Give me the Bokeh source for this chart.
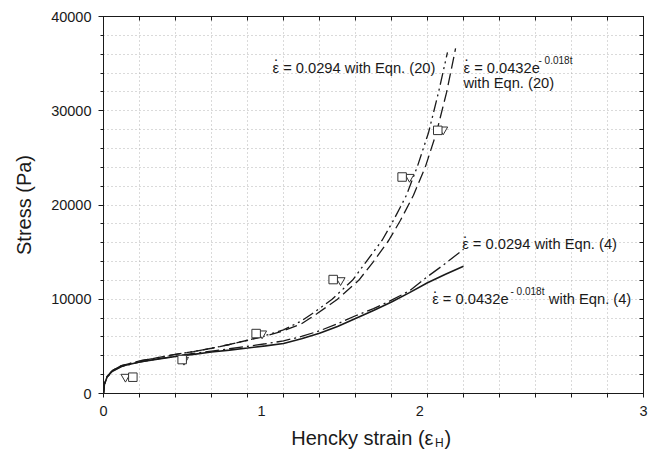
from bokeh.plotting import figure
from bokeh.layouts import column
from bokeh.models import Range1d, FixedTicker, LinearAxis, Label
from bokeh.embed import file_html
from bokeh.resources import INLINE

# ---- data ----
# ε̇ = 0.0432e^-0.018t with Eqn. (4)  (solid)
x_e4_exp = [0, 0.005, 0.02, 0.05, 0.1, 0.2, 0.3, 0.4, 0.5, 0.6, 0.7, 0.8, 0.9, 1.0,
            1.1, 1.2, 1.3, 1.4, 1.5, 1.6, 1.7, 1.8, 1.9, 2.0]
y_e4_exp = [0, 1000, 1750, 2400, 2900, 3350, 3650, 3920, 4150, 4400, 4600, 4820, 5050, 5300,
            5800, 6400, 7100, 7950, 8800, 9700, 10700, 11750, 12650, 13500]
# ε̇ = 0.0294 with Eqn. (4)  (dash-dot)
x_e4_const = [0, 0.005, 0.02, 0.05, 0.1, 0.2, 0.3, 0.4, 0.5, 0.6, 0.7, 0.8, 0.9, 1.0,
              1.1, 1.2, 1.3, 1.4, 1.5, 1.6, 1.7, 1.8, 1.9, 2.0]
y_e4_const = [0, 950, 1700, 2350, 2850, 3330, 3660, 3960, 4250, 4500, 4750, 5000, 5280, 5580,
              6050, 6650, 7400, 8250, 9000, 9900, 10900, 12400, 13800, 15300]
# ε̇ = 0.0432e^-0.018t with Eqn. (20)  (long dash)
x_e20_exp = [0, 0.005, 0.02, 0.05, 0.1, 0.2, 0.3, 0.4, 0.5, 0.6, 0.7, 0.8, 0.9, 1.0,
             1.1, 1.187, 1.3, 1.418, 1.5, 1.585, 1.65, 1.722, 1.789, 1.85, 1.906, 1.956]
y_e20_exp = [0, 1000, 1800, 2450, 2950, 3450, 3800, 4150, 4450, 4800, 5200, 5650, 6100, 6650,
             7400, 8480, 10000, 12010, 14000, 16260, 18380, 21030, 24100, 27700, 31940, 36610]
# ε̇ = 0.0294 with Eqn. (20)  (dash-dot-dot)
x_e20_const = [0, 0.005, 0.02, 0.05, 0.1, 0.2, 0.3, 0.4, 0.5, 0.6, 0.7, 0.8, 0.9, 1.0,
               1.1, 1.161, 1.27, 1.383, 1.46, 1.548, 1.611, 1.683, 1.744, 1.806, 1.861, 1.911]
y_e20_const = [0, 1000, 1800, 2450, 2950, 3450, 3800, 4150, 4450, 4800, 5200, 5650, 6150, 6750,
               7700, 8480, 10000, 12010, 14000, 16260, 18380, 21030, 24100, 27700, 31940, 36200]
# experimental points
x_square = [0.163, 0.437, 0.848, 1.276, 1.659, 1.857]
y_square = [1730, 3600, 6360, 12090, 22970, 27920]
x_tri = [0.122, 0.447, 0.881, 1.317, 1.700, 1.887]
y_tri = [1760, 3560, 6360, 12010, 22970, 28000]

x_label_pos = [0, 0.878, 1.757, 3]
x_label_txt = ["0", "1", "2", "3"]
y_major = [0, 10000, 20000, 30000, 40000]

FONT = "Liberation Sans"
INK = "#1a1a1a"
ANN = "14.7px"

FRAME_L, FRAME_R, FRAME_T, FRAME_B = 103, 643, 16, 393
MAIN_H = 424  # main figure height; the x-axis title strip sits below it

p = figure(width=656, height=MAIN_H, output_backend="svg", toolbar_location=None,
           x_range=Range1d(0, 3), y_range=Range1d(0, 40000),
           min_border_left=FRAME_L, min_border_right=656 - FRAME_R, min_border_top=FRAME_T,
           min_border_bottom=MAIN_H - FRAME_B)
p.background_fill_color = "white"
p.border_fill_color = "white"
p.outline_line_color = INK
p.outline_line_width = 1

x_minor = [round(0.2 * i, 1) for i in range(16)]
y_minor = [2000 * i for i in range(21)]

# grid
p.xgrid.ticker = FixedTicker(ticks=x_minor[1:-1])
p.ygrid.ticker = FixedTicker(ticks=y_minor[1:-1])
for g in (p.xgrid, p.ygrid):
    g.grid_line_color = "#b5b5b5"
    g.grid_line_dash = "1 3"
    g.grid_line_width = 1

# bottom axis
xa = p.xaxis[0]
xa.ticker = FixedTicker(ticks=x_label_pos, minor_ticks=x_minor)
xa.major_label_overrides = {v: t for v, t in zip(x_label_pos, x_label_txt)}
xa.major_tick_in = 0
xa.major_tick_out = 0
xa.minor_tick_in = 0
xa.minor_tick_out = 4
xa.major_label_standoff = 8
xa.major_label_text_font = FONT
xa.major_label_text_font_size = "14.5px"
xa.major_label_text_color = INK
xa.axis_line_color = INK
xa.minor_tick_line_color = INK

# left axis
ya = p.yaxis[0]
ya.ticker = FixedTicker(ticks=y_major, minor_ticks=y_minor)
ya.major_tick_in = 0
ya.major_tick_out = 5
ya.minor_tick_in = 0
ya.minor_tick_out = 3
ya.major_label_standoff = 7
ya.major_label_text_font = FONT
ya.major_label_text_font_size = "14.5px"
ya.major_label_text_color = INK
ya.axis_label = "Stress (Pa)"
ya.axis_label_text_font = FONT
ya.axis_label_text_font_size = "20px"
ya.axis_label_text_font_style = "normal"
ya.axis_label_text_color = INK
ya.axis_label_standoff = 13
ya.axis_line_color = INK
ya.major_tick_line_color = INK
ya.minor_tick_line_color = INK

# top and right axes: inward ticks only, no labels
top = LinearAxis(ticker=FixedTicker(ticks=[], minor_ticks=x_minor))
right = LinearAxis(ticker=FixedTicker(ticks=[], minor_ticks=y_minor))
for ax in (top, right):
    ax.major_tick_in = 0
    ax.major_tick_out = 0
    ax.minor_tick_in = 4
    ax.minor_tick_out = 0
    ax.major_label_standoff = 0
    ax.axis_line_color = INK
    ax.minor_tick_line_color = INK
p.add_layout(top, "above")
p.add_layout(right, "right")

# curves
p.line(x_e4_exp, y_e4_exp, line_color=INK, line_width=1.6)
p.line(x_e4_const, y_e4_const, line_color=INK, line_width=1.3, line_dash="14 4 2 4")
p.line(x_e20_exp, y_e20_exp, line_color=INK, line_width=1.3, line_dash="12 5")
p.line(x_e20_const, y_e20_const, line_color=INK, line_width=1.3, line_dash="12 4 2 4 2 4")

# markers
p.scatter(x_tri, y_tri, marker="inverted_triangle", size=9, fill_color="white",
          line_color="#333333", line_width=1)
p.scatter(x_square, y_square, marker="square", size=8.5, fill_color="white",
          line_color="#333333", line_width=1)


# annotations, positioned from reference pixels (screen units relative to the frame)
def lab(fig, px, py, text, size=ANN, align="left", bottom=FRAME_B):
    fig.add_layout(Label(x=px - FRAME_L, y=bottom - py, x_units="screen", y_units="screen",
                         text=text, text_font=FONT, text_font_size=size, level="overlay",
                         text_color=INK, text_baseline="middle", text_align=align))


def dot(px, py):
    lab(p, px, py, "·", size="15px", align="center")


lab(p, 272, 67, "ε = 0.0294 with Eqn. (20)")
dot(275.5, 58)
lab(p, 463, 67, "ε = 0.0432e")
dot(466, 58)
lab(p, 538, 60, "- 0.018t", size="10px")
lab(p, 463, 82.5, "with Eqn. (20)")
lab(p, 461.7, 243.5, "ε = 0.0294 with Eqn. (4)")
dot(464.5, 235)
lab(p, 431.7, 298.5, "ε = 0.0432e")
dot(434.5, 290)
lab(p, 510, 291, "- 0.018t", size="10px")
lab(p, 548.3, 298.5, "with Eqn. (4)")

# x-axis title strip (own small figure so the subscript can be placed freely);
# its frame spans the same horizontal extent as the main frame
STRIP_H = 453 - MAIN_H
t = figure(width=656, height=STRIP_H, output_backend="svg", toolbar_location=None,
           x_range=Range1d(0, 1), y_range=Range1d(0, 1),
           x_axis_type=None, y_axis_type=None,
           min_border_left=FRAME_L, min_border_right=656 - FRAME_R,
           min_border_top=0, min_border_bottom=0)
t.outline_line_color = None
t.grid.visible = False
t.background_fill_color = "white"
t.border_fill_color = "white"

lab(t, 433, 437, "Hencky strain (ε", size="20px", align="right", bottom=453)
lab(t, 434.5, 442.5, "H", size="12px", bottom=453)
lab(t, 444, 437, ")", size="20px", bottom=453)

open("out.html", "w").write(file_html(column(p, t, spacing=0), INLINE))
